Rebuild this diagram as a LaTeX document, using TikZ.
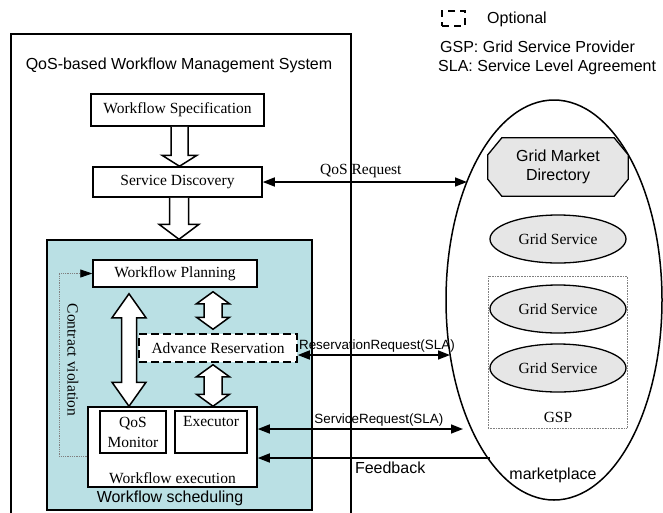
\documentclass[tikz,border=0pt]{standalone}
\usepackage{fontspec}
\setmainfont{Liberation Serif}
\setsansfont{Liberation Sans}
\usepackage{tikz}
\usetikzlibrary{arrows.meta, positioning, shapes.geometric, calc}
\definecolor{schedteal}{RGB}{186,224,228}
\definecolor{servgray}{RGB}{230,230,230}
\newcommand{\wfserif}{\rmfamily\fontsize{15.5}{20}\selectfont}
\newcommand{\wfsans}{\sffamily\fontsize{16}{19}\selectfont}
\newcommand{\wfsmall}{\sffamily\fontsize{13.4}{15}\selectfont}
% hollow block arrows: #1 start, #2 tip, #3 shaft half width, #4 head half width, #5 head length
\newcommand{\blockdown}[5]{%
  \draw[blockarrow] let \p1=#1, \p2=#2 in
    (\x2-#3,\y1) -- (\x2-#3,\y2+#5) -- (\x2-#4,\y2+#5) -- (\x2,\y2)
    -- (\x2+#4,\y2+#5) -- (\x2+#3,\y2+#5) -- (\x2+#3,\y1);}
\newcommand{\blockduplex}[5]{%
  \draw[blockarrow] let \p1=#1, \p2=#2 in
    (\x2,\y1) -- (\x2+#4,\y1-#5) -- (\x2+#3,\y1-#5) -- (\x2+#3,\y2+#5)
    -- (\x2+#4,\y2+#5) -- (\x2,\y2) -- (\x2-#4,\y2+#5) -- (\x2-#3,\y2+#5)
    -- (\x2-#3,\y1-#5) -- (\x2-#4,\y1-#5) -- cycle;}
\tikzset{
  box/.style={draw, line width=1.5pt, fill=white, inner sep=0pt, font=\wfserif},
  optbox/.style={box, dash pattern=on 8pt off 4pt},
  sched/.style={draw, line width=1.5pt, fill=schedteal, inner sep=0pt},
  service/.style={ellipse, draw, line width=1.3pt, fill=servgray, minimum width=136pt,
    minimum height=48pt, inner sep=0pt, font=\wfserif},
  directory/.style={minimum width=140pt, minimum height=58pt, inner sep=0pt,
    align=center, font=\wfsans},
  octagon/.style={draw, line width=1.3pt, fill=servgray, line join=miter},
  market/.style={ellipse, draw, line width=1.5pt, minimum width=216pt, minimum height=400pt},
  gspbox/.style={draw=gray, densely dotted, line width=0.6pt},
  blockarrow/.style={draw, line width=1.5pt, fill=white, line join=miter},
  link/.style={line width=1.5pt, -{Triangle[length=12pt, width=9pt]}},
  duplex/.style={line width=1.5pt, {Triangle[length=12pt, width=9pt]}-{Triangle[length=12pt, width=9pt]}},
  violation/.style={draw=gray, densely dotted, line width=0.8pt,
    -{Triangle[length=12pt, width=8pt, color=black]}},
  msg/.style={font=\wfsmall, inner sep=2pt},
}

\begin{document}
\begin{tikzpicture}[x=1pt, y=-1pt]
  \useasboundingbox (0,0) rectangle (663,512);

  % management system frame
  \draw[line width=1.5pt] (11,514) -- (11,34) -- (351,34) -- (351,514);
  \node[font=\wfsans] (title) at (179,65) {QoS-based Workflow Management System};

  \node[box, minimum width=173pt, minimum height=32pt] (spec) at (177.5,110) {Workflow Specification};
  \node[box, minimum width=169pt, minimum height=30pt] (disc) at (177.5,182) {Service Discovery};

  % workflow scheduling
  \node[sched, minimum width=265pt, minimum height=270pt] (sched) at (179.5,375) {};
  \node[font=\wfsans] (schedlabel) at (170,498) {Workflow scheduling};
  \node[box, minimum width=164pt, minimum height=27pt] (plan) at (175,273.5) {Workflow Planning};
  \node[optbox, minimum width=158pt, minimum height=28pt] (resv) at (218,348) {Advance Reservation};
  \node[box, minimum width=169pt, minimum height=80pt,
    label={[anchor=south, font=\wfserif]south:Workflow execution}] (exec) at (172.5,447) {};
  \node[box, minimum width=66pt, minimum height=42pt, align=center] (qosmon) at (133,432) {QoS\\Monitor};
  \node[box, minimum width=72pt, minimum height=42pt,
    label={[anchor=north, font=\wfserif, yshift=-3pt]north:Executor}] (executor) at (211,432) {};
  \node[font=\wfserif, rotate=-90] (cvlabel) at (73,360) {Contract violation};

  \blockdown{([xshift=2pt]spec.south)}{([xshift=2pt]disc.north)}{8.5pt}{17.5pt}{11pt}
  \blockdown{([xshift=1pt]disc.south)}{([xshift=-0.5pt]sched.north)}{9.5pt}{20pt}{15pt}
  \blockduplex{([yshift=-6pt]plan.south)}{([xshift=-43.5pt]exec.north)}{7.5pt}{17pt}{24pt}
  \blockduplex{([yshift=-4pt]plan.south)}{([xshift=-5pt, yshift=4pt]resv.north)}{9pt}{16.5pt}{12pt}
  \blockduplex{([yshift=-2pt]resv.south)}{([xshift=40.5pt]exec.north)}{9pt}{16.5pt}{12pt}

  \draw[violation] ([yshift=-9pt]exec.west) -- ++(-28,0) |- (plan.west);

  % marketplace
  \node[market] (mkt) at (554,300) {};
  \node[font=\wfsans] (mktlabel) at (553,475) {marketplace};
  \node[directory] (gmd) at (558,167) {};
  \draw[octagon] ([xshift=14pt]gmd.north west) -- ([xshift=-14pt]gmd.north east)
    -- ([yshift=-17pt]gmd.north east) -- ([yshift=17pt]gmd.south east)
    -- ([xshift=-14pt]gmd.south east) -- ([xshift=14pt]gmd.south west)
    -- ([yshift=17pt]gmd.south west) -- ([yshift=-17pt]gmd.north west) -- cycle;
  \node[directory] (gmdtext) at (gmd) {Grid Market\\Directory};
  \node[service] (gs1) at (558,239) {Grid Service};
  \node[gspbox, minimum width=139pt, minimum height=152pt] (gsp) at (557.5,352) {};
  \node[service] (gs2) at (558,309) {Grid Service};
  \node[service] (gs3) at (558,368) {Grid Service};
  \node[font=\wfserif] (gsplabel) at (558,417) {GSP};

  % messages
  \coordinate (qosend) at (467,182);
  \coordinate (resvend) at (450,355);
  \coordinate (srvend) at (463,429);
  \coordinate (fbstart) at (490,458);
  \draw[duplex] (disc.east) -- (qosend) node[pos=0.48, above, font=\wfserif, inner sep=3pt] {QoS Request};
  \draw[duplex] ([yshift=-7pt]resv.east) -- (resvend) node[msg, pos=0.52, above] {ReservationRequest(SLA)};
  \draw[duplex] ([yshift=18pt]exec.east) -- (srvend) node[msg, pos=0.59, above] {ServiceRequest(SLA)};
  \draw[link] (fbstart) -- ([yshift=-11pt]exec.east) node[pos=0.43, below, font=\wfsans, inner sep=3pt] {Feedback};

  % legend
  \node[draw, line width=1.5pt, dash pattern=on 7pt off 5pt, minimum width=23pt,
    minimum height=15pt, inner sep=0pt] (legicon) at (453.5,18.5) {};
  \node[font=\wfsans, anchor=west, inner sep=0pt] (legopt) at (487,19) {Optional};
  \node[font=\wfsans, anchor=west, inner sep=0pt] (leggsp) at (440,47) {GSP: Grid Service Provider};
  \node[font=\wfsans, anchor=west, inner sep=0pt] (legsla) at (438,67) {SLA: Service Level Agreement};
\end{tikzpicture}
\end{document}
